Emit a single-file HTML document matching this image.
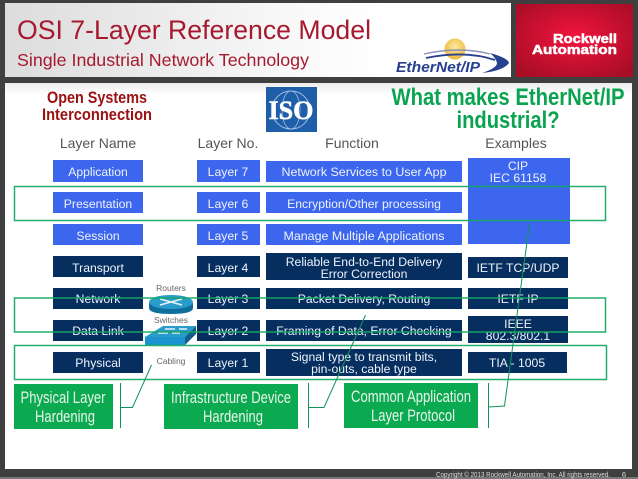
<!DOCTYPE html>
<html><head><meta charset="utf-8"><style>
html,body{margin:0;padding:0;background:#3f3f3f}
svg{display:block}
text{font-family:"Liberation Sans",sans-serif}
.w{fill:#eef3fb;font-size:12.2px;text-anchor:middle}
.h{fill:#555;font-size:14px;text-anchor:middle}
.g{fill:#e8f5ec;font-size:17px;text-anchor:middle}
.s{fill:#666;font-size:8.5px;text-anchor:middle}
</style></head><body>
<svg width="638" height="479" viewBox="0 0 638 479" xmlns="http://www.w3.org/2000/svg">
<defs>
<linearGradient id="t" x1="0" x2="1" y1="0" y2="0"><stop offset="0" stop-color="#dcdcdc"/><stop offset=".55" stop-color="#f8f8f8"/><stop offset=".75" stop-color="#fff"/></linearGradient>
<radialGradient id="r" cx=".5" cy=".45" r=".65"><stop offset="0" stop-color="#f2143f"/><stop offset="1" stop-color="#a80d26"/></radialGradient>
<radialGradient id="sun" cx=".5" cy=".4" r=".6"><stop offset="0" stop-color="#fbe9a0"/><stop offset="1" stop-color="#eeb83a"/></radialGradient>
<linearGradient id="w" x1="0" x2="0" y1="0" y2="1"><stop offset="0" stop-color="#ececec"/><stop offset="1" stop-color="#fff"/></linearGradient>
</defs>
<rect width="638" height="479" fill="#3f3f3f"/>
<rect y="477" width="638" height="2" fill="#777"/>
<rect x="5" y="3" width="506" height="74" fill="url(#t)"/>
<rect x="516" y="4" width="117" height="73" fill="url(#r)"/>
<rect x="5" y="83" width="627" height="386" fill="#fff"/>
<rect x="5" y="83" width="627" height="12" fill="url(#w)"/>

<text x="17" y="39" font-size="27" fill="#a6192e" textLength="354" lengthAdjust="spacingAndGlyphs">OSI 7-Layer Reference Model</text>
<text x="17" y="66" font-size="17.5" fill="#a6192e" textLength="292" lengthAdjust="spacingAndGlyphs">Single Industrial Network Technology</text>
<text x="617" y="43" font-size="12.5" font-weight="bold" fill="#fff" text-anchor="end" stroke="#fff" stroke-width=".5" textLength="64" lengthAdjust="spacingAndGlyphs">Rockwell</text>
<text x="617" y="54" font-size="12.5" font-weight="bold" fill="#fff" text-anchor="end" stroke="#fff" stroke-width=".5" textLength="85" lengthAdjust="spacingAndGlyphs">Automation</text>

<!-- EtherNet/IP logo -->
<circle cx="455" cy="49" r="10.5" fill="url(#sun)"/>
<path d="M424 54 Q460 46 490 54" fill="none" stroke="#8a93bb" stroke-width="1.4"/>
<path d="M426 58 Q465 50 495 60" fill="none" stroke="#27408f" stroke-width="1.8"/>
<path d="M490 53 Q508 58 509 63 Q503 71 482 73 Q497 68 497 63 Q496 58 490 53Z" fill="#27408f"/>
<text x="396" y="72" font-size="14.5" font-weight="bold" font-style="italic" fill="#27408f" textLength="84" lengthAdjust="spacingAndGlyphs">EtherNet/IP</text>

<text x="97" y="103" font-size="17" font-weight="bold" fill="#9b1010" text-anchor="middle" textLength="100" lengthAdjust="spacingAndGlyphs">Open Systems</text>
<text x="97" y="120" font-size="17" font-weight="bold" fill="#9b1010" text-anchor="middle" textLength="110" lengthAdjust="spacingAndGlyphs">Interconnection</text>

<!-- ISO logo -->
<rect x="266" y="87" width="51" height="45" fill="#1f5ea8"/>
<ellipse cx="291" cy="110" rx="19" ry="19" fill="none" stroke="#9fc0e4" stroke-width="1"/>
<ellipse cx="291" cy="110" rx="9" ry="19" fill="none" stroke="#9fc0e4" stroke-width=".8"/>
<text x="291" y="119" font-size="26" font-weight="bold" fill="#fff" text-anchor="middle" stroke="#fff" stroke-width=".5" style="font-family:'Liberation Serif',serif" textLength="45" lengthAdjust="spacingAndGlyphs">ISO</text>

<text x="508" y="105" font-size="24" font-weight="bold" fill="#0aa350" text-anchor="middle" textLength="233" lengthAdjust="spacingAndGlyphs">What makes EtherNet/IP</text>
<text x="508" y="128" font-size="24" font-weight="bold" fill="#0aa350" text-anchor="middle" textLength="103" lengthAdjust="spacingAndGlyphs">industrial?</text>

<text class="h" x="98" y="148">Layer Name</text>
<text class="h" x="228" y="148">Layer No.</text>
<text class="h" x="352" y="148">Function</text>
<text class="h" x="516" y="148">Examples</text>

<!-- light blue boxes -->
<g fill="#3c66ee">
<rect x="53" y="160" width="90" height="22"/><rect x="197" y="160" width="63" height="22"/><rect x="266" y="161" width="196" height="21"/>
<rect x="53" y="192" width="90" height="21"/><rect x="197" y="192" width="63" height="21"/><rect x="266" y="192" width="196" height="21"/>
<rect x="53" y="224" width="90" height="21"/><rect x="197" y="224" width="63" height="21"/><rect x="266" y="224" width="196" height="21"/>
<rect x="468" y="158" width="102" height="86"/>
</g>
<!-- dark blue boxes -->
<g fill="#062f60">
<rect x="53" y="256" width="90" height="21"/><rect x="197" y="256" width="63" height="21"/><rect x="266" y="253" width="196" height="27"/>
<rect x="53" y="288" width="90" height="21"/><rect x="197" y="288" width="63" height="21"/><rect x="266" y="288" width="196" height="21"/>
<rect x="53" y="320" width="90" height="21"/><rect x="197" y="320" width="63" height="21"/><rect x="266" y="320" width="196" height="21"/>
<rect x="53" y="352" width="90" height="21"/><rect x="197" y="352" width="63" height="21"/><rect x="266" y="349" width="196" height="27"/>
<rect x="468" y="257" width="100" height="21"/><rect x="468" y="288" width="100" height="21"/><rect x="468" y="316" width="100" height="27"/><rect x="468" y="352" width="99" height="21"/>
</g>

<text class="w" x="98" y="176">Application</text><text class="w" x="228" y="176">Layer 7</text><text class="w" x="364" y="176" textLength="165" lengthAdjust="spacingAndGlyphs">Network Services to User App</text>
<text class="w" x="98" y="208">Presentation</text><text class="w" x="228" y="208">Layer 6</text><text class="w" x="364" y="208">Encryption/Other processing</text>
<text class="w" x="98" y="240">Session</text><text class="w" x="228" y="240">Layer 5</text><text class="w" x="364" y="240" textLength="161" lengthAdjust="spacingAndGlyphs">Manage Multiple Applications</text>
<text class="w" x="98" y="272">Transport</text><text class="w" x="228" y="272">Layer 4</text>
<text class="w" x="364" y="266">Reliable End-to-End Delivery</text><text class="w" x="364" y="278">Error Correction</text>
<text class="w" x="98" y="303">Network</text><text class="w" x="228" y="303">Layer 3</text><text class="w" x="364" y="303">Packet Delivery, Routing</text>
<text class="w" x="98" y="335">Data Link</text><text class="w" x="228" y="335">Layer 2</text><text class="w" x="364" y="335">Framing of Data, Error Checking</text>
<text class="w" x="98" y="367">Physical</text><text class="w" x="228" y="367">Layer 1</text>
<text class="w" x="364" y="361">Signal type to transmit bits,</text><text class="w" x="364" y="373">pin-outs, cable type</text>
<text class="w" x="518" y="170">CIP</text><text class="w" x="518" y="182">IEC 61158</text>
<text class="w" x="518" y="272">IETF TCP/UDP</text>
<text class="w" x="518" y="303">IETF IP</text>
<text class="w" x="518" y="328">IEEE</text><text class="w" x="518" y="340">802.3/802.1</text>
<text class="w" x="517" y="367">TIA - 1005</text>

<!-- device icons -->
<text class="s" x="171" y="291">Routers</text>
<path d="M149 303 v5 q0 6 22 6 q22 0 22 -6 v-5z" fill="#0f6f9c"/>
<ellipse cx="171" cy="302" rx="22" ry="7" fill="#2a9ccb"/>
<path d="M160 299 l22 6 M182 299 l-22 6" stroke="#e4f3fa" stroke-width="1.6"/>
<text class="s" x="171" y="323">Switches</text>
<path d="M145 337 h40 v8 h-40z" fill="#1b93cf"/>
<path d="M145 337 l18 -11 h33 l-11 11z" fill="#2a9ccb"/>
<path d="M185 337 l11 -11 v8 l-11 11z" fill="#0f5f88"/>
<path d="M158 333 h10 M172 333 h8 M165 329 h10 M179 329 h8" stroke="#e4f3fa" stroke-width="1.6"/>
<text class="s" x="171" y="364">Cabling</text>

<!-- green outlines -->
<g fill="none" stroke="#14a862" stroke-width="1.5" opacity=".93">
<rect x="14.5" y="186.5" width="591" height="34"/>
<rect x="14.5" y="298" width="591" height="34"/>
<rect x="14.5" y="345.5" width="592" height="34"/>
</g>
<!-- brackets -->
<g fill="none" stroke="#0f9457" stroke-width="1">
<path d="M120.5 383 V428 M120.5 407.5 H132.5 L151.5 365"/>
<path d="M308.5 383 V428 M308.5 407.5 H324 L365.5 315"/>
<path d="M488.5 383 V428 M488.5 407 L504.5 406 L529.5 224"/>
</g>

<!-- green boxes -->
<g fill="#0caa50">
<rect x="14" y="384" width="99" height="45"/>
<rect x="164" y="384" width="134" height="45"/>
<rect x="344" y="383" width="134" height="45"/>
</g>
<text class="g" x="63" y="403" textLength="85" lengthAdjust="spacingAndGlyphs">Physical Layer</text>
<text class="g" x="65" y="422" textLength="60" lengthAdjust="spacingAndGlyphs">Hardening</text>
<text class="g" x="231" y="403" textLength="120" lengthAdjust="spacingAndGlyphs">Infrastructure Device</text>
<text class="g" x="233" y="422" textLength="60" lengthAdjust="spacingAndGlyphs">Hardening</text>
<text class="g" x="411" y="402" textLength="120" lengthAdjust="spacingAndGlyphs">Common Application</text>
<text class="g" x="413" y="421" textLength="84" lengthAdjust="spacingAndGlyphs">Layer Protocol</text>

<text x="610" y="477" font-size="7.5" fill="#ddd" text-anchor="end" textLength="174" lengthAdjust="spacingAndGlyphs">Copyright © 2013 Rockwell Automation, Inc. All rights reserved.</text>
<text x="624" y="477" font-size="7.5" fill="#ddd" text-anchor="middle">6</text>
</svg>
</body></html>
